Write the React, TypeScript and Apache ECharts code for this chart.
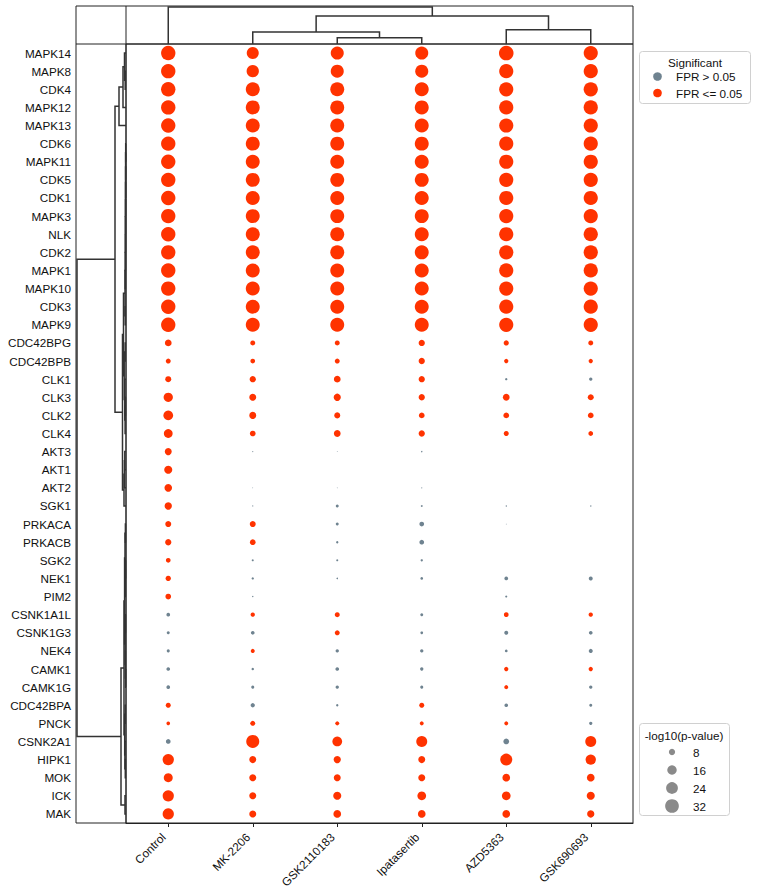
import React, { useEffect, useRef } from "react";
import * as echarts from "echarts";

const kinases = [
  "MAPK14", "MAPK8", "CDK4", "MAPK12", "MAPK13", "CDK6", "MAPK11", "CDK5", "CDK1", "MAPK3",
  "NLK", "CDK2", "MAPK1", "MAPK10", "CDK3", "MAPK9", "CDC42BPG", "CDC42BPB", "CLK1", "CLK3",
  "CLK2", "CLK4", "AKT3", "AKT1", "AKT2", "SGK1", "PRKACA", "PRKACB", "SGK2", "NEK1",
  "PIM2", "CSNK1A1L", "CSNK1G3", "NEK4", "CAMK1", "CAMK1G", "CDC42BPA", "PNCK", "CSNK2A1", "HIPK1",
  "MOK", "ICK", "MAK",
];

const drugs = ["Control", "MK-2206", "GSK2110183", "Ipatasertib", "AZD5363", "GSK690693"];

// -log10(p-value), one array per drug, in kinase order
const pControl = [
  35, 35, 35, 35, 35, 35, 35, 35, 35, 35, 35, 35, 35, 35, 35, 35,
  9, 5.6, 7.4, 15.5, 16.8, 14, 9.5, 12, 11, 10.3, 7.4, 8, 5.2, 6.2,
  6.8, 3.8, 3.1, 3.1, 3.8, 3.8, 5.6, 3.8, 5.2, 22, 14.5, 22, 22,
];
const pMK2206 = [
  25, 26, 33, 33, 33, 33, 33, 33, 33, 33, 33, 33, 33, 33, 33, 33,
  5.6, 5.2, 8, 9.5, 9.5, 6.8, 1.8, 0.5, 1.7, 1.8, 7.4, 6.8, 2.3, 2.5,
  1.9, 4.6, 3.8, 4.2, 2.6, 3.1, 4.6, 5.6, 29, 9.5, 9.5, 9.5, 9.5,
];
const pGSK2110183 = [
  29, 29, 33, 33, 33, 33, 33, 33, 33, 33, 33, 33, 33, 33, 33, 33,
  5.6, 5.6, 9, 10, 7.4, 9, 1.7, 0.5, 1.7, 3, 3, 2.5, 2.3, 2.0,
  0.5, 5.6, 5.6, 3.4, 3.8, 3.4, 2.5, 4.2, 16.8, 10.2, 9.5, 12, 11.2,
];
const pIpatasertib = [
  29, 29, 33, 33, 33, 33, 33, 33, 33, 33, 33, 33, 33, 33, 33, 33,
  8, 8, 8, 8, 6.8, 8, 1.9, 0.5, 1.8, 2.1, 5.2, 5.2, 2.5, 2.8,
  0.5, 3, 2.8, 3.4, 3.4, 3.1, 5.6, 4.2, 21, 9.5, 9.5, 13.8, 11.2,
];
const pAZD5363 = [
  36, 34, 34, 34, 34, 34, 34, 34, 34, 34, 34, 34, 34, 34, 34, 34,
  6, 4.6, 2.5, 9, 6.8, 5.6, 0.5, 0.5, 0.5, 1.9, 1.7, 0.5, 1.6, 3.8,
  2.3, 5.2, 4.2, 2.8, 4.6, 4.2, 3.8, 4.2, 6.8, 24.8, 11.2, 13.8, 11.2,
];
const pGSK690693 = [
  34, 34, 34, 34, 34, 34, 34, 34, 34, 34, 34, 34, 34, 34, 34, 34,
  5.6, 4.6, 3.4, 7.4, 6.8, 5.2, 0.5, 0.5, 0.5, 1.9, 0.5, 0.5, 1.6, 4.2,
  0.5, 4.6, 3.8, 4.2, 4.6, 3.4, 3.1, 3.4, 21, 18.7, 11.2, 12, 10.2,
];

// significance flags (1 = FPR <= 0.05), same order
const sigControl = [
  1, 1, 1, 1, 1, 1, 1, 1, 1, 1, 1, 1, 1, 1, 1, 1,
  1, 1, 1, 1, 1, 1, 1, 1, 1, 1, 1, 1, 1, 1,
  1, 0, 0, 0, 0, 0, 1, 1, 0, 1, 1, 1, 1,
];
const sigMK2206 = [
  1, 1, 1, 1, 1, 1, 1, 1, 1, 1, 1, 1, 1, 1, 1, 1,
  1, 1, 1, 1, 1, 1, 0, 0, 0, 0, 1, 1, 0, 0,
  0, 1, 0, 1, 0, 0, 0, 1, 1, 1, 1, 1, 1,
];
const sigGSK2110183 = [
  1, 1, 1, 1, 1, 1, 1, 1, 1, 1, 1, 1, 1, 1, 1, 1,
  1, 1, 1, 1, 1, 1, 0, 0, 0, 0, 0, 0, 0, 0,
  0, 1, 1, 0, 0, 0, 0, 1, 1, 1, 1, 1, 1,
];
const sigIpatasertib = [
  1, 1, 1, 1, 1, 1, 1, 1, 1, 1, 1, 1, 1, 1, 1, 1,
  1, 1, 1, 1, 1, 1, 0, 0, 0, 0, 0, 0, 0, 0,
  0, 0, 0, 0, 0, 0, 1, 1, 1, 1, 1, 1, 1,
];
const sigAZD5363 = [
  1, 1, 1, 1, 1, 1, 1, 1, 1, 1, 1, 1, 1, 1, 1, 1,
  1, 1, 0, 1, 1, 1, 0, 0, 0, 0, 0, 0, 0, 0,
  0, 1, 0, 0, 1, 1, 0, 1, 0, 1, 1, 1, 1,
];
const sigGSK690693 = [
  1, 1, 1, 1, 1, 1, 1, 1, 1, 1, 1, 1, 1, 1, 1, 1,
  1, 1, 0, 1, 1, 1, 0, 0, 0, 0, 0, 0, 0, 0,
  0, 1, 0, 0, 1, 0, 0, 0, 1, 1, 1, 1, 1,
];

// dendrogram linkages: [childA, childB, height]; new clusters numbered from leaf count
const colLinkage = [
  [2, 3, 6.3],
  [1, 6, 12],
  [4, 5, 14.3],
  [7, 8, 28],
  [0, 9, 37],
];
const rowLinkage = [
  [1, 2, 0.8], [0, 43, 1.5], [44, 3, 3], [45, 4, 7],
  [5, 6, 0.3], [47, 7, 0.4], [48, 8, 0.4], [49, 9, 0.5], [50, 10, 0.5], [51, 11, 0.6],
  [52, 12, 0.6], [53, 13, 0.7], [14, 15, 0.8], [54, 55, 1.0],
  [16, 17, 0.8], [19, 20, 0.6], [58, 21, 0.9], [18, 59, 1.2], [57, 60, 1.8], [56, 61, 2.5],
  [22, 23, 1.2], [63, 24, 1.6], [64, 25, 2.0],
  [62, 65, 3.5],
  [46, 66, 11],
  [26, 27, 0.6], [28, 29, 0.5], [69, 30, 0.7], [68, 70, 1.0], [31, 32, 0.6], [34, 35, 0.4],
  [33, 73, 0.7], [72, 74, 0.9], [71, 75, 1.4], [36, 37, 0.8], [39, 40, 0.7], [38, 78, 1.1],
  [77, 79, 1.3], [76, 80, 2.0], [41, 42, 1.0], [81, 82, 5], [67, 83, 49],
];

const sizeLegendValues = [8, 16, 24, 32];

const RED = "#ff3300";
const GREY = "#6f8390";
const LEGEND_GREY = "#8a8a8a";
const LINE = "#222";
const DENDRO = "#333";
const FONT = "'Liberation Sans', Arial, Helvetica, sans-serif";
const FS = 11.7;

const sizeFor = (v: number) => Math.sqrt(Math.max(6.2 * v - 10, 0));

function buildSegments(n: number, linkage: number[][]) {
  const pos: number[] = [];
  const ht: number[] = [];
  for (let i = 0; i < n; i++) {
    pos.push(i);
    ht.push(0);
  }
  const segs: number[][] = [];
  linkage.forEach(([a, b, h]) => {
    segs.push([pos[a], ht[a], pos[b], ht[b], h]);
    pos.push((pos[a] + pos[b]) / 2);
    ht.push(h);
  });
  return segs;
}

export default function App() {
  const ref = useRef<HTMLDivElement>(null);

  useEffect(() => {
    if (!ref.current) return;
    const chart = echarts.init(ref.current, undefined, { renderer: "svg" });

    const values = [pControl, pMK2206, pGSK2110183, pIpatasertib, pAZD5363, pGSK690693];
    const sigs = [sigControl, sigMK2206, sigGSK2110183, sigIpatasertib, sigAZD5363, sigGSK690693];
    const sigData: number[][] = [];
    const nsData: number[][] = [];
    values.forEach((col, di) => {
      col.forEach((v, ki) => {
        (sigs[di][ki] ? sigData : nsData).push([di, ki, v]);
      });
    });

    const colSegs = buildSegments(drugs.length, colLinkage);
    const rowSegs = buildSegments(kinases.length, rowLinkage);

    const lineStyle = { stroke: DENDRO, lineWidth: 1.5, fill: "none" };

    const graphics: any[] = [
      {
        type: "polyline",
        shape: { points: [[76, 44], [76, 6], [126, 6]] },
        style: { stroke: LINE, lineWidth: 1, fill: "none" },
      },
      {
        type: "rect",
        shape: { x: 639.5, y: 51.5, width: 111, height: 52, r: 3 },
        style: { fill: "#fff", stroke: "#d0d0d0", lineWidth: 1 },
      },
      {
        type: "text",
        x: 695,
        y: 62,
        style: { text: "Significant", fontSize: FS, fontFamily: FONT, fill: "#111", align: "center", verticalAlign: "middle" },
      },
      { type: "circle", shape: { cx: 657.5, cy: 76.5, r: 4.3 }, style: { fill: GREY } },
      {
        type: "text",
        x: 676,
        y: 76.5,
        style: { text: "FPR > 0.05", fontSize: FS, fontFamily: FONT, fill: "#111", align: "left", verticalAlign: "middle" },
      },
      { type: "circle", shape: { cx: 657.5, cy: 93, r: 4.3 }, style: { fill: RED } },
      {
        type: "text",
        x: 676,
        y: 93,
        style: { text: "FPR <= 0.05", fontSize: FS, fontFamily: FONT, fill: "#111", align: "left", verticalAlign: "middle" },
      },
      {
        type: "rect",
        shape: { x: 639.5, y: 723.5, width: 90, height: 92, r: 3 },
        style: { fill: "#fff", stroke: "#d0d0d0", lineWidth: 1 },
      },
      {
        type: "text",
        x: 684,
        y: 735,
        style: { text: "-log10(p-value)", fontSize: FS, fontFamily: FONT, fill: "#111", align: "center", verticalAlign: "middle" },
      },
    ];
    sizeLegendValues.forEach((v, i) => {
      const cy = 752 + i * 18;
      graphics.push({ type: "circle", shape: { cx: 672, cy, r: sizeFor(v) / 2 }, style: { fill: LEGEND_GREY } });
      graphics.push({
        type: "text",
        x: 693,
        y: cy,
        style: { text: String(v), fontSize: FS, fontFamily: FONT, fill: "#111", align: "left", verticalAlign: "middle" },
      });
    });

    const option: any = {
      animation: false,
      textStyle: { fontFamily: FONT },
      grid: [
        { left: 126, top: 44, width: 507, height: 779, show: true, borderColor: LINE, borderWidth: 1, backgroundColor: "transparent" },
        { left: 126, top: 6, width: 507, height: 38, show: true, borderColor: LINE, borderWidth: 1, backgroundColor: "transparent" },
        { left: 76, top: 44, width: 50, height: 779, show: true, borderColor: LINE, borderWidth: 1, backgroundColor: "transparent" },
      ],
      xAxis: [
        {
          gridIndex: 0,
          type: "category",
          data: drugs,
          boundaryGap: true,
          axisLine: { show: true, lineStyle: { color: LINE } },
          axisTick: { show: true, alignWithLabel: true, length: 4, lineStyle: { color: LINE } },
          axisLabel: { rotate: 45, margin: 7, padding: [0, 7, 0, 0], fontSize: FS, color: "#111", fontFamily: FONT, interval: 0 },
          splitLine: { show: false },
        },
        { gridIndex: 1, type: "value", min: -0.5, max: 5.5, show: false },
        { gridIndex: 2, type: "value", min: 0, max: 50, inverse: true, show: false },
      ],
      yAxis: [
        {
          gridIndex: 0,
          type: "category",
          data: kinases,
          inverse: true,
          axisLine: { show: false },
          axisTick: { show: false },
          axisLabel: { margin: 55, fontSize: FS, color: "#111", fontFamily: FONT, interval: 0 },
          splitLine: { show: false },
        },
        { gridIndex: 1, type: "value", min: 0, max: 38, show: false },
        { gridIndex: 2, type: "value", min: -0.5, max: 42.5, inverse: true, show: false },
      ],
      series: [
        {
          type: "scatter",
          name: "FPR > 0.05",
          xAxisIndex: 0,
          yAxisIndex: 0,
          data: nsData,
          symbol: "circle",
          symbolSize: (val: number[]) => sizeFor(val[2]),
          itemStyle: { color: GREY, opacity: 1 },
          silent: true,
        },
        {
          type: "scatter",
          name: "FPR <= 0.05",
          xAxisIndex: 0,
          yAxisIndex: 0,
          data: sigData,
          symbol: "circle",
          symbolSize: (val: number[]) => sizeFor(val[2]),
          itemStyle: { color: RED, opacity: 1 },
          silent: true,
        },
        {
          type: "custom",
          xAxisIndex: 1,
          yAxisIndex: 1,
          data: colSegs,
          silent: true,
          encode: { x: [0, 2], y: [1, 3, 4] },
          renderItem: (_p: any, api: any) => {
            const pa = api.value(0), ha = api.value(1), pb = api.value(2), hb = api.value(3), h = api.value(4);
            return {
              type: "polyline",
              shape: { points: [api.coord([pa, ha]), api.coord([pa, h]), api.coord([pb, h]), api.coord([pb, hb])] },
              style: lineStyle,
            };
          },
        },
        {
          type: "custom",
          xAxisIndex: 2,
          yAxisIndex: 2,
          data: rowSegs,
          silent: true,
          encode: { x: [1, 3, 4], y: [0, 2] },
          renderItem: (_p: any, api: any) => {
            const pa = api.value(0), ha = api.value(1), pb = api.value(2), hb = api.value(3), h = api.value(4);
            return {
              type: "polyline",
              shape: { points: [api.coord([ha, pa]), api.coord([h, pa]), api.coord([h, pb]), api.coord([hb, pb])] },
              style: lineStyle,
            };
          },
        },
      ],
      graphic: graphics,
    };

    chart.setOption(option);
    return () => chart.dispose();
  }, []);

  return (
    <div
      ref={ref}
      style={{ position: "fixed", left: 0, top: 0, width: 757, height: 893, background: "#fff" }}
    />
  );
}
